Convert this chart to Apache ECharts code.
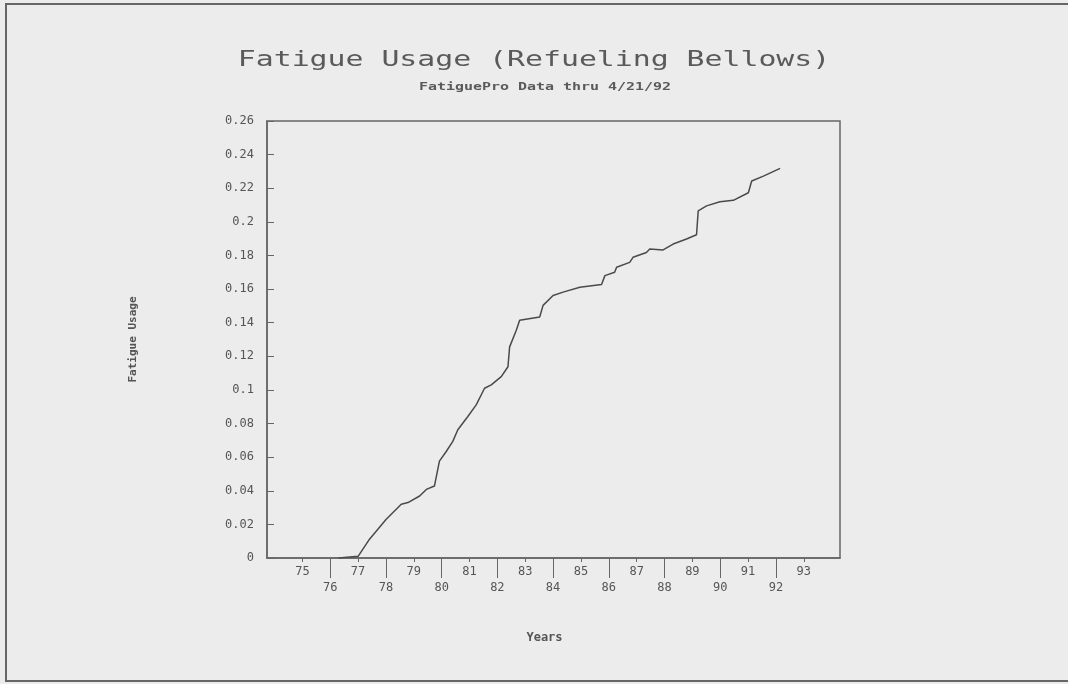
<!DOCTYPE html>
<html>
<head>
<meta charset="utf-8">
<script src="https://cdn.jsdelivr.net/npm/echarts@6/dist/echarts.min.js"></script>
<style>
  html, body { margin: 0; padding: 0; background: #ececec; }
  #chart { width: 1068px; height: 684px; }
</style>
</head>
<body>
<div id="chart"></div>
<script>
// cumulative fatigue usage (year, usage)
var years = [76.3, 77.0, 77.41, 78.01, 78.55, 78.79, 79.21, 79.45, 79.74, 79.92,
             80.17, 80.40, 80.58, 80.94, 81.24, 81.54, 81.78, 82.14, 82.38, 82.44,
             82.68, 82.80, 83.52, 83.64, 84.00, 84.36, 84.96, 85.74, 85.86, 86.21,
             86.28, 86.75, 86.87, 87.35, 87.47, 87.95, 88.31, 88.79, 89.15, 89.21,
             89.51, 89.99, 90.47, 91.01, 91.13, 91.55, 92.15];
var usage = [0, 0.001, 0.0112, 0.0231, 0.0320, 0.0330, 0.0369, 0.0408, 0.0428, 0.0576,
             0.0635, 0.0694, 0.0763, 0.0842, 0.0911, 0.1010, 0.1030, 0.1079, 0.1138, 0.1256,
             0.1355, 0.1414, 0.1434, 0.1503, 0.1562, 0.1582, 0.1611, 0.1627, 0.1680, 0.1700,
             0.1730, 0.1759, 0.1789, 0.1818, 0.1838, 0.1833, 0.1868, 0.1898, 0.1923, 0.2065,
             0.2095, 0.2120, 0.2128, 0.2173, 0.2243, 0.2272, 0.2318];

var oddYears = [75, 77, 79, 81, 83, 85, 87, 89, 91, 93];
var evenYears = [76, 78, 80, 82, 84, 86, 88, 90, 92];

var titleText = 'Fatigue Usage (Refueling Bellows)';
var subtitleText = 'FatiguePro Data thru 4/21/92';

var ink = '#555';
var mono = '"DejaVu Sans Mono", "Liberation Mono", monospace';

var seriesData = [];
for (var i = 0; i < years.length; i++) {
  seriesData.push([years[i], usage[i]]);
}

var chart = echarts.init(document.getElementById('chart'));

var xMin = 73.73, xMax = 94.3;

var option = {
  backgroundColor: '#ececec',
  animation: false,
  graphic: [
    {
      type: 'rect',
      shape: { x: 6, y: 4, width: 1100, height: 677 },
      style: { fill: 'none', stroke: '#666', lineWidth: 2 }
    },
    {
      type: 'text',
      x: 534, y: 61,
      scaleX: 1.42,
      style: {
        text: titleText, font: 'normal 21px ' + mono, fill: '#5a5a5a',
        align: 'center', verticalAlign: 'middle'
      }
    },
    {
      type: 'text',
      x: 545, y: 87,
      scaleX: 1.36,
      style: {
        text: subtitleText, font: 'bold 11px ' + mono, fill: '#5a5a5a',
        align: 'center', verticalAlign: 'middle'
      }
    }
  ],
  grid: {
    left: 267, right: 228, top: 121, bottom: 126,
    containLabel: false,
    show: true,
    backgroundColor: 'transparent',
    borderColor: '#666',
    borderWidth: 1.5
  },
  xAxis: [
    {
      type: 'value',
      min: xMin, max: xMax,
      name: 'Years',
      nameLocation: 'middle',
      nameGap: 74,
      nameTextStyle: { color: ink, fontFamily: mono, fontSize: 12, fontWeight: 'bold', padding: [0, 18, 0, 0] },
      splitLine: { show: false },
      axisLine: { show: true, onZero: false, lineStyle: { color: '#666', width: 1.5 } },
      axisTick: { show: true, customValues: oddYears, length: 4, lineStyle: { color: '#666' } },
      axisLabel: { customValues: oddYears, margin: 8, color: ink, fontFamily: mono, fontSize: 12 }
    },
    {
      type: 'value',
      min: xMin, max: xMax,
      position: 'bottom',
      splitLine: { show: false },
      axisLine: { show: false, onZero: false },
      axisTick: { show: true, customValues: evenYears, length: 20, lineStyle: { color: '#666' } },
      axisLabel: { customValues: evenYears, margin: 24, color: ink, fontFamily: mono, fontSize: 12 }
    }
  ],
  yAxis: {
    type: 'value',
    min: 0, max: 0.26, interval: 0.02,
    name: 'Fatigue Usage',
    nameLocation: 'middle',
    nameGap: 128,
    nameTextStyle: { color: ink, fontFamily: mono, fontSize: 11, fontWeight: 'bold' },
    splitLine: { show: false },
    axisLine: { show: true, lineStyle: { color: '#666', width: 1.5 } },
    axisTick: { show: true, inside: true, length: 7, lineStyle: { color: '#666' } },
    axisLabel: { margin: 13, color: ink, fontFamily: mono, fontSize: 12 }
  },
  series: [{
    type: 'line',
    xAxisIndex: 0,
    data: seriesData,
    showSymbol: false,
    lineStyle: { color: '#4a4a4a', width: 1.5 }
  }]
};

chart.setOption(option);
</script>
</body>
</html>
